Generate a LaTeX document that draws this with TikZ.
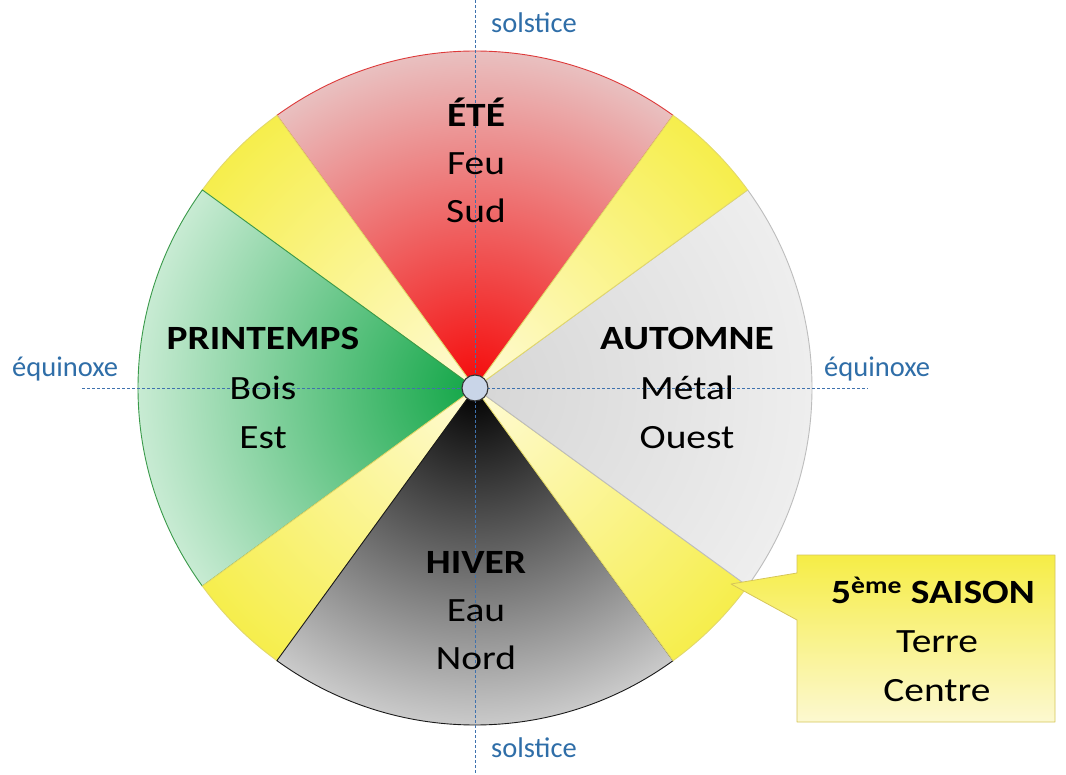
\documentclass[tikz,border=0pt]{standalone}
\usepackage{fontspec}
\setmainfont{Carlito}
\newfontfamily\bigf[FakeStretch=1.16]{Carlito}
\definecolor{axisblue}{HTML}{3F72AE}
\definecolor{labelblue}{HTML}{2F6EA8}
\definecolor{redIn}{HTML}{F50A0A}
\definecolor{redOut}{HTML}{E9C0C0}
\definecolor{redLine}{HTML}{DD3A3A}
\definecolor{greenIn}{HTML}{12A647}
\definecolor{greenOut}{HTML}{C8EBD3}
\definecolor{greenLine}{HTML}{3A9A4A}
\definecolor{blackIn}{HTML}{000000}
\definecolor{blackOut}{HTML}{CACACA}
\definecolor{blackLine}{HTML}{1A1A1A}
\definecolor{greyIn}{HTML}{D6D6D6}
\definecolor{greyOut}{HTML}{EEEEEE}
\definecolor{greyLine}{HTML}{BDBDBD}
\definecolor{yelIn}{HTML}{FFFBD6}
\definecolor{yelOut}{HTML}{F6EE4C}
\definecolor{yelLine}{HTML}{E2D86A}
\definecolor{boxA}{HTML}{F6ED46}
\definecolor{boxB}{HTML}{FCF8D0}
\definecolor{boxLine}{HTML}{D6C65A}
\definecolor{hubFill}{HTML}{C9D5E8}
\begin{document}
\begin{tikzpicture}[x=1pt,y=-1pt,
  bigfont/.style={font=\bigf\fontsize{34}{40}\selectfont, text=black, inner sep=0pt, anchor=base},
  boldfont/.style={bigfont, font=\bigf\fontsize{34}{40}\selectfont\bfseries},
  axislabel/.style={font=\fontsize{28.5}{34}\selectfont, text=labelblue, inner sep=0pt, anchor=base west},
  axisline/.style={draw=axisblue, line width=0.8pt, dash pattern=on 3pt off 2pt}]
\useasboundingbox (0,0) rectangle (1066,775);
\fill[white] (0,0) rectangle (1066,775);

\def\R{337}
\begin{scope}[shift={(475,388)}, x=1pt, y=1pt]
  \foreach \a/\b/\ci/\co/\cl in {54/126/redIn/redOut/redLine,
                                  126/144/yelIn/yelOut/yelLine,
                                  144/216/greenIn/greenOut/greenLine,
                                  216/234/yelIn/yelOut/yelLine,
                                  234/306/blackIn/blackOut/blackLine,
                                  306/324/yelIn/yelOut/yelLine,
                                  -36/36/greyIn/greyOut/greyLine,
                                  36/54/yelIn/yelOut/yelLine}{
    \begin{scope}
      \clip (0,0) -- (\a:\R) arc[start angle=\a, end angle=\b, radius=\R] -- cycle;
      \shade[inner color=\ci, outer color=\co] (0,0) circle (\R);
    \end{scope}
    \draw[\cl, line width=0.9pt, line join=round] (0,0) -- (\a:\R) arc[start angle=\a, end angle=\b, radius=\R] -- cycle;
  }
\end{scope}

% callout
\shade[top color=boxA, bottom color=boxB]
  (797,555) -- (1055,555) -- (1055,722) -- (797,722) -- (797,620) -- (731,584) -- (797,573) -- cycle;
\draw[boxLine, line width=0.8pt, line join=round]
  (797,555) -- (1055,555) -- (1055,722) -- (797,722) -- (797,620) -- (731,584) -- (797,573) -- cycle;

% axes
\coordinate (vtop) at (475,0);
\coordinate (vbot) at (475,775);
\coordinate (hl) at (82,388);
\coordinate (hr) at (868,388);
\draw[axisline] (vtop) -- (vbot);
\draw[axisline] (hl) -- (hr);

% hub
\node[circle, draw=black!80, line width=1.1pt, fill=hubFill, minimum size=26pt, inner sep=0pt] (hub) at (475,388) {};

% axis labels
\node[axislabel] (soltop) at (491,33) {solstice};
\node[axislabel] (solbot) at (491,757) {solstice};
\node[axislabel] (eqleft) at (12,377) {équinoxe};
\node[axislabel] (eqright) at (824,377) {équinoxe};

% seasons
\node[boldfont] (ete1) at (476,127) {ÉTÉ};
\node[bigfont] (ete2) at (476,175) {Feu};
\node[bigfont] (ete3) at (476,223) {Sud};

\node[boldfont] (pri1) at (263,350) {PRINTEMPS};
\node[bigfont] (pri2) at (263,400) {Bois};
\node[bigfont] (pri3) at (263,449) {Est};

\node[boldfont] (aut1) at (687,350) {AUTOMNE};
\node[bigfont] (aut2) at (687,400) {Métal};
\node[bigfont] (aut3) at (687,449) {Ouest};

\node[boldfont] (hiv1) at (476,573) {HIVER};
\node[bigfont] (hiv2) at (476,621) {Eau};
\node[bigfont] (hiv3) at (476,669) {Nord};

\node[boldfont] (sai1) at (933,603) {5\textsuperscript{ème} SAISON};
\node[bigfont] (sai2) at (937,652) {Terre};
\node[bigfont] (sai3) at (937,701) {Centre};
\end{tikzpicture}
\end{document}
